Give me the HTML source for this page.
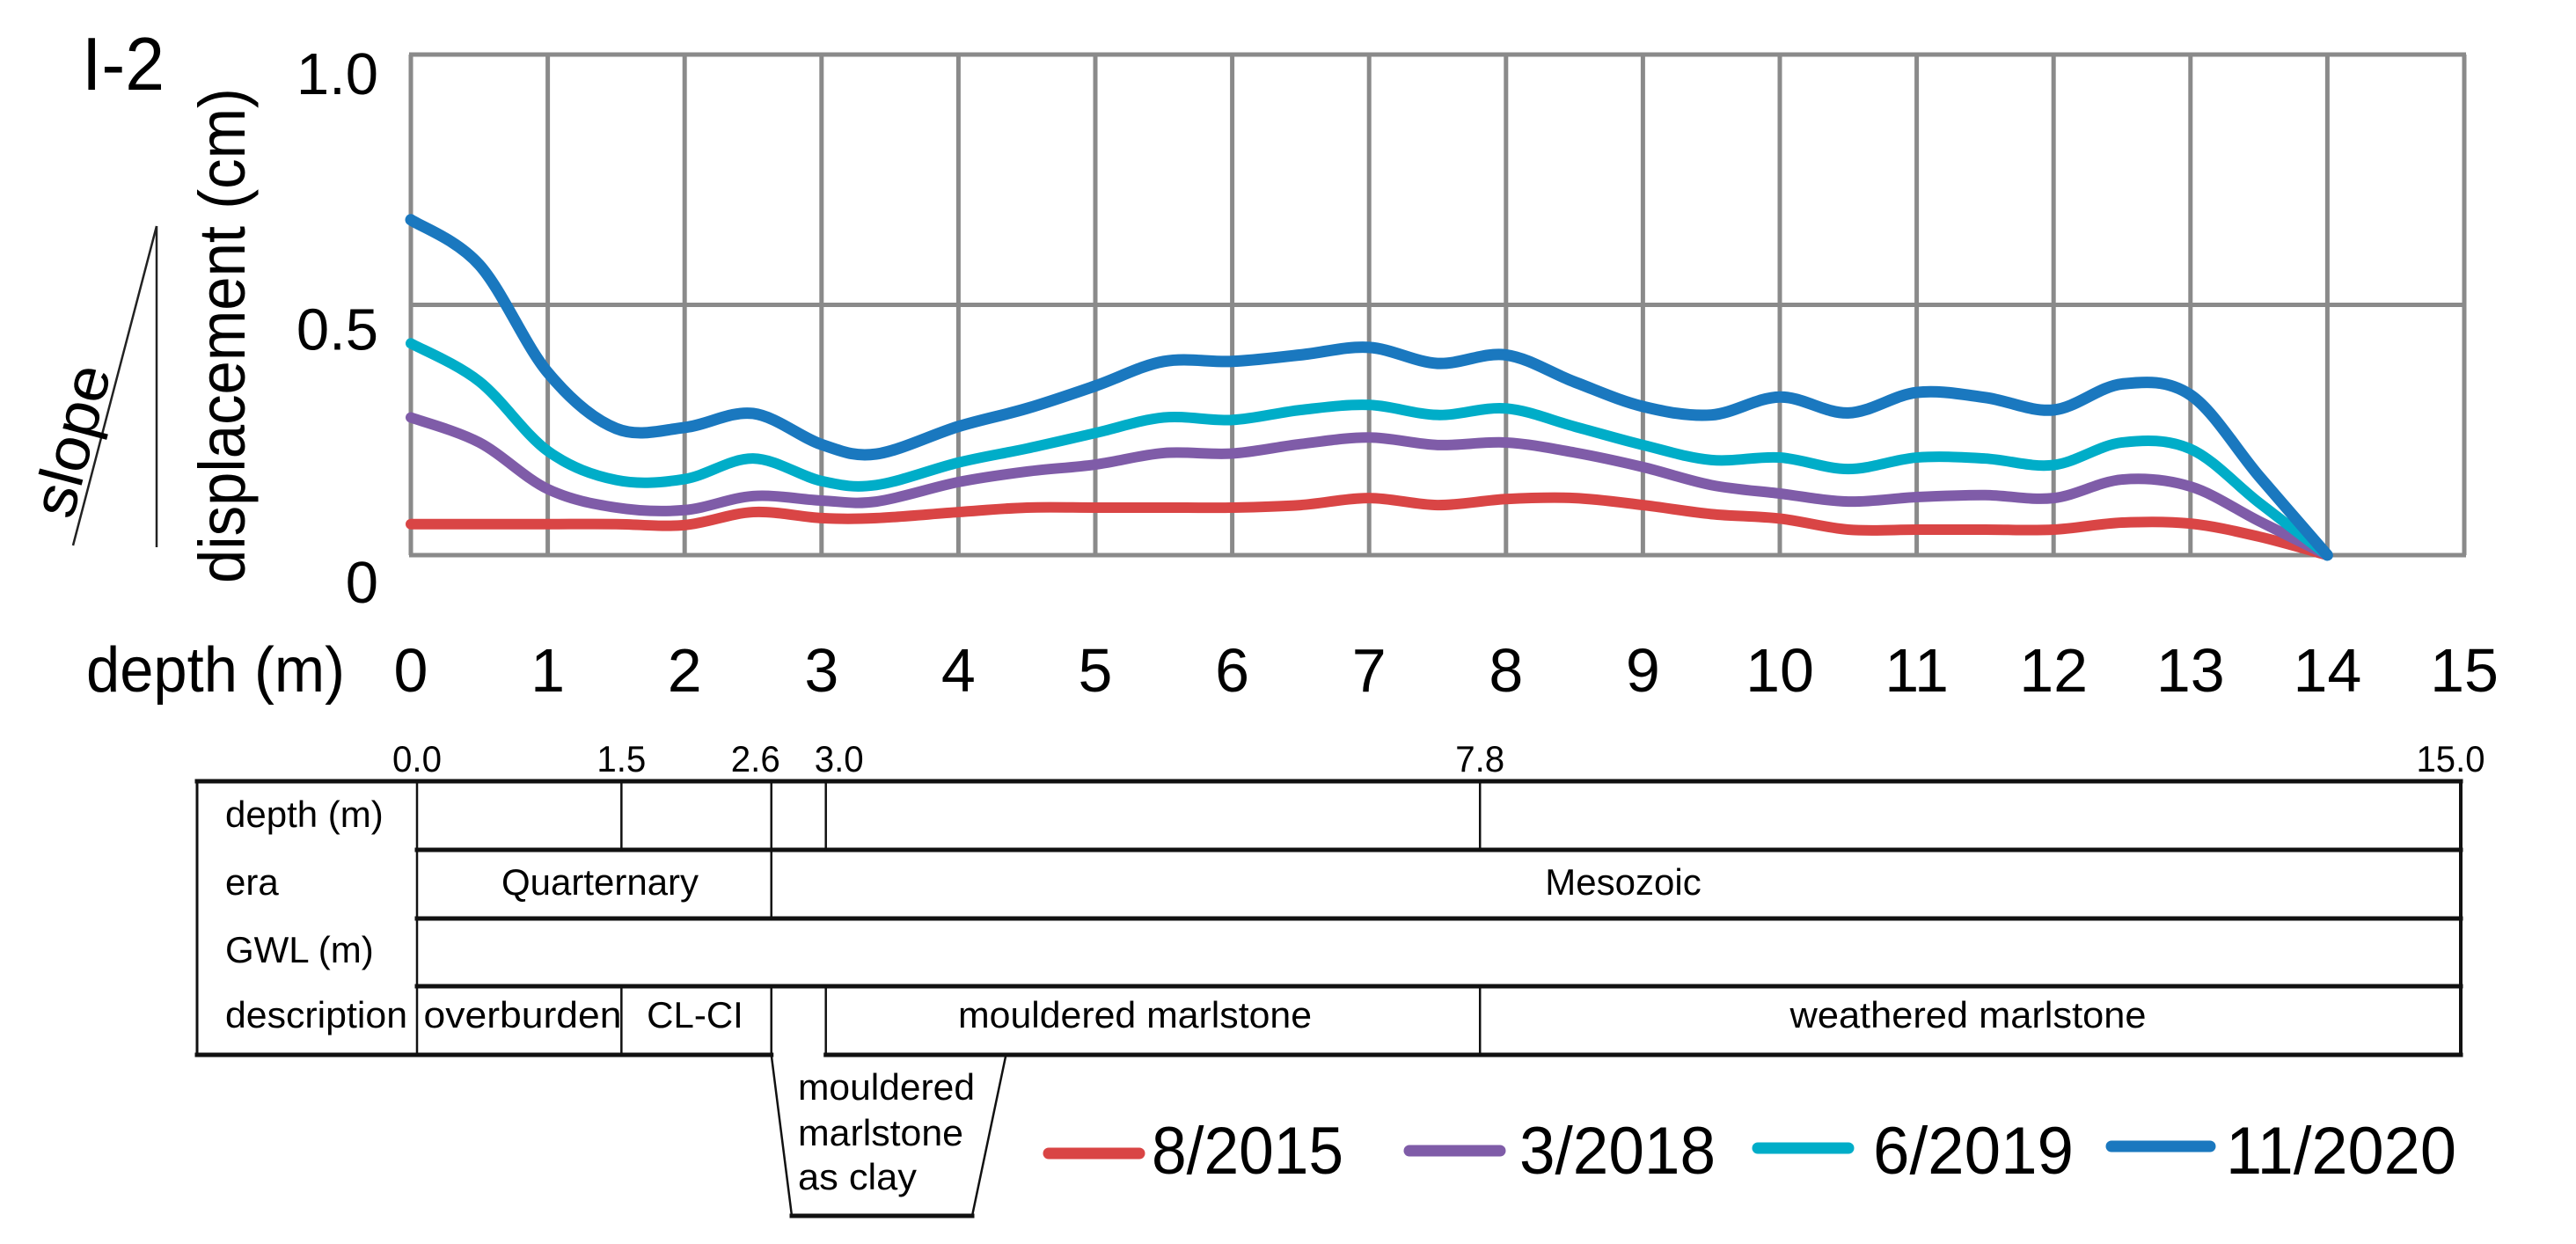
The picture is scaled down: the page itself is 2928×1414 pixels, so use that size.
<!DOCTYPE html>
<html><head><meta charset="utf-8"><style>
html,body{margin:0;padding:0;background:#fff;}
svg{display:block;font-family:"Liberation Sans",Arial,sans-serif;}
</style></head><body>
<svg id="chart" width="2928" height="1414" viewBox="0 0 2928 1414" xmlns="http://www.w3.org/2000/svg">
<rect width="2928" height="1414" fill="#fff"/>
<g id="grid"></g>
<g id="series"></g>
<g id="ticks"></g>
<text x="93" y="102" font-size="85" textLength="94" lengthAdjust="spacingAndGlyphs">I-2</text>
<text x="98" y="786" font-size="72" textLength="294" lengthAdjust="spacingAndGlyphs">depth (m)</text>
<text transform="translate(278,663) rotate(-90)" x="0" y="0" font-size="74" textLength="563" lengthAdjust="spacingAndGlyphs">displacement (cm)</text>
<g>
<line x1="178" y1="257" x2="178" y2="622" stroke="#222" stroke-width="2.5"/>
<line x1="178" y1="257" x2="83" y2="620" stroke="#222" stroke-width="2.5"/>
<text transform="translate(82,592) rotate(-75.3)" font-size="70" textLength="176" lengthAdjust="spacingAndGlyphs">slope</text>
</g>
<g id="table"></g>
<g id="legend"></g>
</svg>
<script>
const depths = [0,0.5,1,1.5,2,2.5,3,3.4,4,4.5,5,5.5,6,6.5,7,7.5,8,8.5,9,9.5,10,10.5,11,11.5,12,12.5,13,13.5,14];
const s2015 = [0.062,0.062,0.062,0.062,0.06,0.086,0.074,0.074,0.086,0.095,0.095,0.095,0.095,0.10,0.114,0.10,0.112,0.114,0.10,0.082,0.073,0.051,0.051,0.051,0.051,0.065,0.063,0.037,0];
const s2018 = [0.275,0.225,0.132,0.095,0.09,0.118,0.109,0.107,0.146,0.167,0.181,0.204,0.203,0.222,0.235,0.22,0.225,0.205,0.176,0.14,0.123,0.107,0.116,0.12,0.114,0.151,0.137,0.068,0];
const s2019 = [0.423,0.347,0.208,0.15,0.152,0.193,0.148,0.14,0.185,0.213,0.244,0.275,0.27,0.29,0.30,0.28,0.293,0.257,0.22,0.19,0.195,0.172,0.195,0.193,0.18,0.225,0.212,0.105,0];
const s2020 = [0.67,0.58,0.365,0.253,0.255,0.283,0.221,0.202,0.257,0.293,0.338,0.387,0.387,0.40,0.415,0.383,0.40,0.346,0.297,0.28,0.316,0.284,0.325,0.315,0.29,0.342,0.32,0.158,0];
const seriesNames = ["8/2015","3/2018","6/2019","11/2020"];
const xTicks = [0,1,2,3,4,5,6,7,8,9,10,11,12,13,14,15];
const yTicks = [0,0.5,1.0];
const yTickLabels = ["0","0.5","1.0"];
const tableDepths = [0.0,1.5,2.6,3.0,7.8,15.0];
const tableDepthLabels = ["0.0","1.5","2.6","3.0","7.8","15.0"];

const NS = "http://www.w3.org/2000/svg";
const X = d => 467 + d * 155.6;
const Y = v => 631 - v * 569;
const TX = d => 474 + d * 154.9;
function mk(tag, attrs, parent){const e=document.createElementNS(NS,tag);for(const k in attrs)e.setAttribute(k,attrs[k]);parent.appendChild(e);return e;}

const grid = document.getElementById('grid');
xTicks.forEach(t=>{
  const l = mk('line',{x1:X(t),x2:X(t),y1:Y(1),y2:Y(0),stroke:'#8a8a8a','stroke-width':5},grid);
  
  
});
yTicks.forEach(t=>{
  const l = mk('line',{x1:X(0)-2,x2:X(15)+2,y1:Y(t),y2:Y(t),stroke:'#8a8a8a','stroke-width':5},grid);
  
  
});

const ticks = document.getElementById('ticks');
xTicks.forEach(t=>{
  const tx = mk('text',{x:X(t),y:786,'font-size':70,'text-anchor':'middle'},ticks);
  tx.textContent = String(t);
  
  
});
yTicks.forEach((t,i)=>{
  const ty = mk('text',{x:430,y:Y(t)+ (i===0?54:(i===1?51:45)),'font-size':67,'text-anchor':'end'},ticks);
  ty.textContent = yTickLabels[i];
  
  
});

function crPath(xs, ys){
  const p = xs.map((d,i)=>[X(d),Y(ys[i])]);
  let s = `M${p[0][0]},${p[0][1]}`;
  for(let i=0;i<p.length-1;i++){
    const p0=p[Math.max(i-1,0)],p1=p[i],p2=p[i+1],p3=p[Math.min(i+2,p.length-1)];
    const c1=[p1[0]+(p2[0]-p0[0])/6,p1[1]+(p2[1]-p0[1])/6];
    const c2=[p2[0]-(p3[0]-p1[0])/6,p2[1]-(p3[1]-p1[1])/6];
    s+=` C${c1[0]},${c1[1]} ${c2[0]},${c2[1]} ${p2[0]},${p2[1]}`;
  }
  return s;
}
const seriesG = document.getElementById('series');
const colors = ['#d94545','#7f5ca8','#00adc8','#1a78bf'];
const widths = [12,12,12,13];
[s2015,s2018,s2019,s2020].forEach((ser,i)=>{
  const p = mk('path',{d:crPath(depths,ser),fill:'none',stroke:colors[i],'stroke-width':widths[i],'stroke-linecap':'round','stroke-linejoin':'round'},seriesG);
  
  
});

const tb = document.getElementById('table');
function L(x1,y1,x2,y2,w,name){
  const l = mk('line',{x1,y1,x2,y2,stroke:'#111','stroke-width':w,'stroke-linecap':'square'},tb);
  
  
}
L(224,888,2797,888,5,'table-top-border');
L(474,966,2797,966,5,'table-row-line');
L(474,1044,2797,1044,5,'table-row-line');
L(474,1121,2797,1121,5,'table-row-line');
L(224,1199,TX(2.6),1199,5,'table-bottom-border');
L(TX(3.0),1199,2797,1199,5,'table-bottom-border');
L(224,888,224,1199,3,'table-left-border');
L(2797,888,2797,1199,4,'table-right-border');
L(474,888,474,1199,2.5,'label-column-divider');
[1.5,2.6,3.0,7.8].forEach(d=>L(TX(d),888,TX(d),966,2.5,'depth-divider'));
L(TX(2.6),966,TX(2.6),1044,2.5,'era-divider');
[1.5,3.0,7.8].forEach(d=>L(TX(d),1121,TX(d),1199,2.5,'description-divider'));
L(TX(2.6),1121,TX(2.6),1199,2.5,'description-divider');
const trap = mk('path',{d:`M${TX(2.6)},1199 L900,1382 L1105,1382 L1143,1201`,fill:'none',stroke:'#111','stroke-width':2.5},tb);


L(900,1382,1105,1382,5,'trapezoid-bottom');

function T(x,y,txt,size,anchor,name,len){
  const a={x,y,'font-size':size,'text-anchor':anchor||'start'};
  if(len){a.textLength=len;a.lengthAdjust='spacingAndGlyphs';}
  const t = mk('text',a,tb);
  t.textContent=txt;
  
  
}
const labelShift=[0,0,-18,15,0,-12];
const labelLen=[56,56,56,56,56,78];
tableDepths.forEach((d,i)=>T(TX(d)+labelShift[i],877,tableDepthLabels[i],42,'middle','table-depth-tick',labelLen[i]));
T(256,940,'depth (m)',42,'start','row-label-depth');
T(256,1017,'era',42,'start','row-label-era');
T(256,1094,'GWL (m)',42,'start','row-label-gwl');
T(256,1168,'description',42,'start','row-label-description',207);
T(682,1017,'Quarternary',42,'middle','era-quaternary');
T(1845,1017,'Mesozoic',42,'middle','era-mesozoic');
T(594,1168,'overburden',42,'middle','desc-overburden',225);
T(790,1168,'CL-CI',42,'middle','desc-cl-ci');
T(1290,1168,'mouldered marlstone',42,'middle','desc-mouldered-marlstone',402);
T(2237,1168,'weathered marlstone',42,'middle','desc-weathered-marlstone',405);
T(907,1250,'mouldered',42,'start','desc-clay-line1',201);
T(907,1302,'marlstone',42,'start','desc-clay-line2',188);
T(907,1352,'as clay',42,'start','desc-clay-line3',135);

const lg = document.getElementById('legend');
const legX1=[1192,1602,1998,2400], legX2=[1295,1705,2101,2512], legTX=[1309,1727,2129,2530], legW=[218,223,228,262];
const legY=[1311,1308,1305,1303];
seriesNames.forEach((n,i)=>{
  const l = mk('line',{x1:legX1[i],x2:legX2[i],y1:legY[i],y2:legY[i],stroke:colors[i],'stroke-width':13,'stroke-linecap':'round'},lg);
  
  
  const t = mk('text',{x:legTX[i],y:1334,'font-size':76,textLength:legW[i],lengthAdjust:'spacingAndGlyphs'},lg);
  t.textContent=n;
  
  
});
</script>
</body></html>
